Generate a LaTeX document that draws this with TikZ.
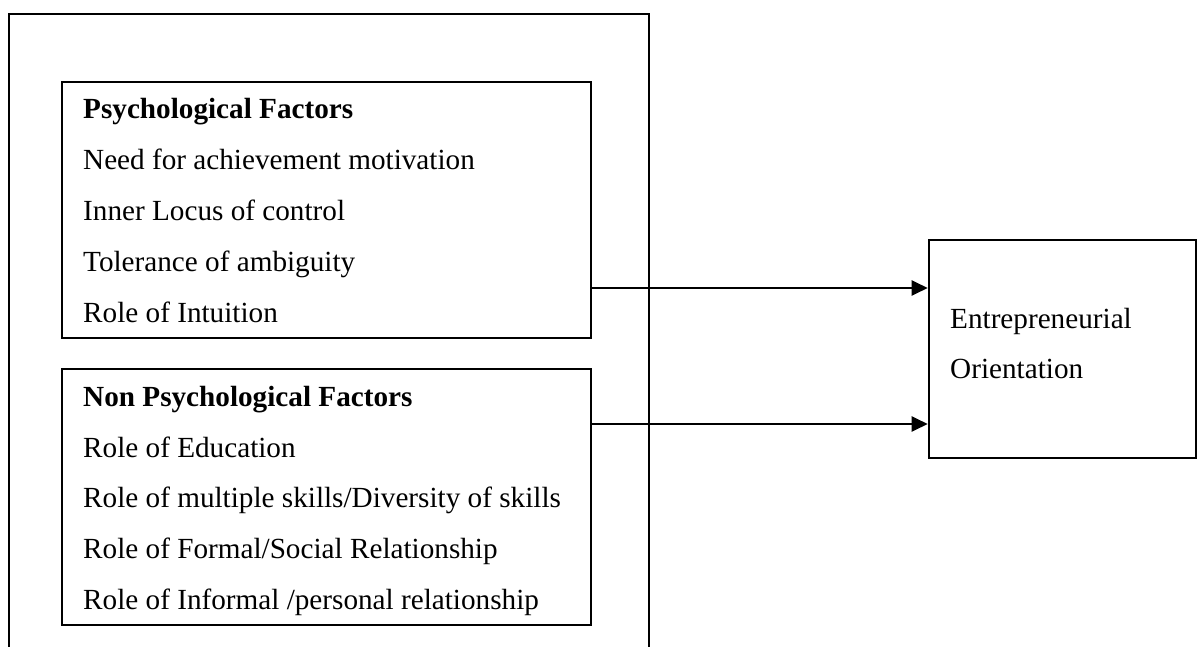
\documentclass[tikz,border=0pt]{standalone}
\usepackage{fontspec}
\setmainfont{Liberation Serif}
\usetikzlibrary{arrows.meta}
\begin{document}
\begin{tikzpicture}[x=1pt,y=-1pt,
  boxstyle/.style={draw,line width=2.6pt,rectangle,inner sep=0pt},
  linetext/.style={anchor=base west,inner sep=0pt,font=\fontsize{29.2}{35}\selectfont},
  headtext/.style={linetext,font=\fontsize{29.2}{35}\selectfont\bfseries},
  arrowstyle/.style={line width=2.2pt,-{Triangle[length=16pt,width=15pt]}}]
\useasboundingbox (0,0) rectangle (1204,647);
\fill[white] (0,0) rectangle (1204,647);
% outer frame (open at the bottom)
\draw[line width=2.6pt] (9,647) -- (9,14) -- (649,14) -- (649,647);
% boxes
\node[boxstyle,minimum width=529pt,minimum height=256pt] (b1) at (326.5,210) {};
\node[boxstyle,minimum width=529pt,minimum height=256pt] (b2) at (326.5,497) {};
\node[boxstyle,minimum width=267pt,minimum height=218pt] (eo) at (1062.5,349) {};
% box 1 text
\node[headtext] (t11) at (83,119) {Psychological Factors};
\node[linetext] (t12) at (83,170) {Need for achievement motivation};
\node[linetext] (t13) at (83,220) {Inner Locus of control};
\node[linetext] (t14) at (83,271) {Tolerance of ambiguity};
\node[linetext] (t15) at (83,322) {Role of Intuition};
% box 2 text
\node[headtext] (t21) at (83,406) {Non Psychological Factors};
\node[linetext] (t22) at (83,457) {Role of Education};
\node[linetext] (t23) at (83,507) {Role of multiple skills/Diversity of skills};
\node[linetext] (t24) at (83,558) {Role of Formal/Social Relationship};
\node[linetext] (t25) at (83,609) {Role of Informal /personal relationship};
% right box text
\node[linetext] (t31) at (950,328) {Entrepreneurial};
\node[linetext] (t32) at (950,378) {Orientation};
% arrows
\coordinate (y1) at (0,288);
\coordinate (y2) at (0,424);
\draw[arrowstyle] (b1.east |- y1) -- (eo.west |- y1);
\draw[arrowstyle] (b2.east |- y2) -- (eo.west |- y2);
\end{tikzpicture}
\end{document}
